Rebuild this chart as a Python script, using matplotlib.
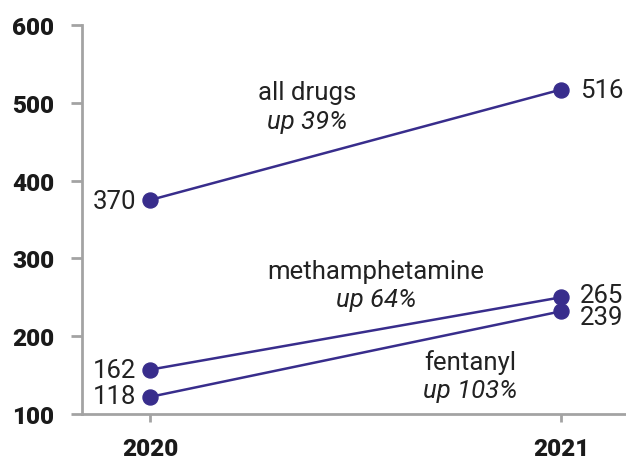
import matplotlib
matplotlib.use("Agg")
import matplotlib.pyplot as plt

years = [2020, 2021]
year_labels = ["2020", "2021"]
series_names = ["all drugs", "methamphetamine", "fentanyl"]
series_changes = ["up 39%", "up 64%", "up 103%"]
all_drugs = [375, 517]
methamphetamine = [157, 250]
fentanyl = [122, 232]
all_drugs_labels = ["370", "516"]
meth_labels = ["162", "265"]
fent_labels = ["118", "239"]
yticks = [100, 200, 300, 400, 500, 600]

plt.rcParams['font.family'] = ['Roboto', 'DejaVu Sans']

LINE = '#382d8c'
AXC = '#a3a3a3'
TXT = '#222222'
FS = 18.5
TFS = 17.5

fig = plt.figure(figsize=(6.26, 4.60), dpi=100)
ax = fig.add_axes([0.131, 0.0978, 0.869, 0.8457])

for vals in (all_drugs, methamphetamine, fentanyl):
    ax.plot(years, vals, color=LINE, lw=1.8, marker='o', ms=10.8,
            solid_capstyle='butt', zorder=3)

def lab(x, y, s, dx, dy, ha):
    ax.annotate(s, (x, y), xytext=(dx, dy), textcoords='offset points',
                ha=ha, va='center', fontsize=FS, color=TXT)

lab(years[0], all_drugs[0], all_drugs_labels[0], -10, -1, 'right')
lab(years[1], all_drugs[1], all_drugs_labels[1], 13.5, 0, 'left')
lab(years[0], methamphetamine[0], meth_labels[0], -10, 0, 'right')
lab(years[1], methamphetamine[1], meth_labels[1], 13.5, 2, 'left')
lab(years[0], fentanyl[0], fent_labels[0], -10, 0.5, 'right')
lab(years[1], fentanyl[1], fent_labels[1], 13.5, -4, 'left')

name_pos = [(2020.382, 513.8, 476.4), (2020.55, 283.4, 247.4), (2020.78, 167.6, 131.5)]
for (x, y1, y2), nm, ch in zip(name_pos, series_names, series_changes):
    ax.text(x, y1, nm, ha='center', va='center', fontsize=FS, color=TXT)
    ax.text(x, y2, ch, ha='center', va='center', fontsize=FS, color=TXT,
            style='italic')

ax.set_xlim(2019.8345, 2021.158)
ax.set_ylim(100, 600)
ax.set_yticks(yticks)
ax.set_yticklabels([str(v) for v in yticks], fontsize=TFS, fontweight='black',
                   color='#1a1a1a')
ax.set_xticks(years)
ax.set_xticklabels(year_labels, fontsize=TFS, fontweight='black', color='#1a1a1a')
ax.tick_params(axis='y', length=8, width=2, color=AXC, pad=12)
ax.tick_params(axis='x', length=6, width=2, color=AXC, pad=10.5)
for s in ('top', 'right'):
    ax.spines[s].set_visible(False)
for s in ('left', 'bottom'):
    ax.spines[s].set_color(AXC)
    ax.spines[s].set_linewidth(2)
ax.patch.set_alpha(0)

fig.savefig('out.png', dpi=100)
